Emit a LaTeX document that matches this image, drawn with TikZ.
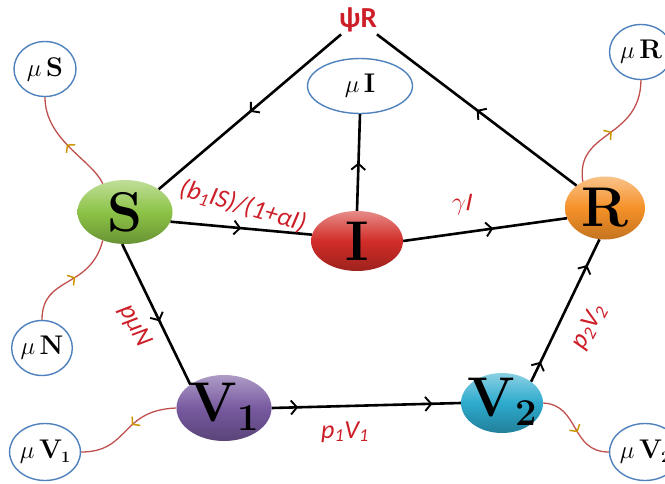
\documentclass[tikz,border=0pt]{standalone}
\usepackage{fontspec}
\newfontfamily\labfont{Carlito}
\usetikzlibrary{shapes.geometric,arrows.meta,decorations.markings}
\definecolor{lnred}{RGB}{192,80,77}
\definecolor{tipgold}{RGB}{204,150,0}
\definecolor{ringblue}{RGB}{79,129,189}
\definecolor{labred}{RGB}{205,30,40}
\definecolor{sgreen}{RGB}{140,195,70}
\definecolor{ired}{RGB}{210,45,40}
\definecolor{rorange}{RGB}{245,145,40}
\definecolor{vpurple}{RGB}{120,90,160}
\definecolor{vcyan}{RGB}{45,170,205}
\tikzset{
  x=1pt, y=-1pt,
  comp/.style={ellipse, inner sep=0pt, text=black,
    font=\fontsize{56}{56}\selectfont\bfseries},
  outring/.style={ellipse, draw=ringblue, line width=1.4pt, fill=white, inner sep=0pt,
    font=\fontsize{27}{27}\selectfont},
  flow/.style={line width=2.6pt, black},
  loss/.style={line width=1.3pt, lnred},
  lab/.style={text=labred, font=\labfont\itshape\fontsize{26}{26}\selectfont, inner sep=1pt},
  midarrow/.style={postaction={decorate}, decoration={markings,
    mark=at position #1 with {\arrow{Straight Barb[length=6pt,width=14pt,line width=1.9pt]}}}},
  twoarrows/.style 2 args={postaction={decorate}, decoration={markings,
    mark=at position #1 with {\arrow{Straight Barb[length=6pt,width=14pt,line width=1.9pt]}},
    mark=at position #2 with {\arrow{Straight Barb[length=6pt,width=14pt,line width=1.9pt]}}}},
  goldarrow/.style={postaction={decorate}, decoration={markings,
    mark=at position #1 with {\arrow[tipgold]{Straight Barb[length=5pt,width=12pt,line width=1.5pt]}}}},
}
\begin{document}
\begin{tikzpicture}
\useasboundingbox (0,0) rectangle (665,483);
% compartments
\node[comp, minimum width=95pt, minimum height=64pt, shade, top color=sgreen!55!white, bottom color=sgreen!75!black, middle color=sgreen] (S) at (125,212) {S};
\node[comp, minimum width=92pt, minimum height=60pt, shade, top color=ired!55!white, bottom color=ired!75!black, middle color=ired] (I) at (357,241) {I};
\node[comp, minimum width=80pt, minimum height=63pt, shade, top color=rorange!55!white, bottom color=rorange!80!black, middle color=rorange] (R) at (605,208) {R};
\node[comp, minimum width=95pt, minimum height=66pt, shade, top color=vpurple!60!white, bottom color=vpurple!75!black, middle color=vpurple] (V1) at (224,408) {\makebox[0pt]{\raisebox{-13pt}[0pt][0pt]{V\raisebox{-9pt}{\fontsize{38}{38}\selectfont 1}}}};
\node[comp, minimum width=82pt, minimum height=60pt, shade, top color=vcyan!55!white, bottom color=vcyan!75!black, middle color=vcyan] (V2) at (502,403) {\makebox[0pt]{\raisebox{-13pt}[0pt][0pt]{V\raisebox{-9pt}{\fontsize{38}{38}\selectfont 2}}}};
% psi R
\node[text=labred, font=\labfont\bfseries\fontsize{29}{29}\selectfont, inner sep=2pt] (psi) at (358,20) {ψR};
% outflow rings
\node[outring, minimum width=105pt, minimum height=55pt] (muI) at (360,86) {$\mu$\,\textbf{I}};
\node[outring, minimum width=62pt, minimum height=55pt] (muS) at (45,69) {$\mu$\,\textbf{S}};
\node[outring, minimum width=63pt, minimum height=55pt] (muR) at (641,52) {$\mu$\,\textbf{R}};
\node[outring, minimum width=57pt, minimum height=55pt] (muN) at (42,348) {$\mu$\,\textbf{N}};
\node[outring, minimum width=64pt, minimum height=57pt] (muV1) at (45,452) {$\mu$\,\textbf{V}\hspace{-1pt}\raisebox{-0.15em}{\fontsize{16}{16}\selectfont\bfseries 1}};
\node[outring, minimum width=63pt, minimum height=57pt] (muV2) at (645,452) {$\mu$\,\textbf{V}\hspace{-1pt}\raisebox{-0.15em}{\fontsize{16}{16}\selectfont\bfseries 2}};
% main flows
\draw[flow, midarrow=0.5] (psi) -- (S.north east);
\draw[flow, midarrow=0.5] (R.north west) -- (psi);
\draw[flow, midarrow=0.5] (I.north) -- (muI.south);
\draw[flow, midarrow=0.5] (S.-12) -- (I.172);
\draw[flow, midarrow=0.55] (I.east) -- (R.195);
\draw[flow, midarrow=0.55] (S.-95) -- (V1.north west);
\draw[flow, twoarrows={0.14}{0.85}] (V1.east) -- (V2.west);
\draw[flow, twoarrows={0.14}{0.82}] (V2.north east) -- (R.-100);
% labels
\node[lab, rotate=-16] (lbSI) at (243,206) {(b\textsubscript{1}IS)/(1+αI)};
\node[lab, rotate=-5] (lbIR) at (462,204) {$\gamma$I};
\node[lab, rotate=-62] (lbSV) at (135,326) {pμN};
\node[lab, rotate=62] (lbVR) at (589,327) {p\textsubscript{2}V\textsubscript{2}};
\node[lab] (lbVV) at (345,432) {p\textsubscript{1}V\textsubscript{1}};
% natural death curves
\draw[loss, goldarrow=0.5] (S.128) .. controls (92,160) and (45,140) .. (muS.south);
\draw[loss, goldarrow=0.55] (muN.north) .. controls (42,275) and (90,290) .. (S.-128);
\draw[loss, goldarrow=0.45] (V1.west) .. controls (120,410) and (130,452) .. (muV1.east);
\draw[loss, goldarrow=0.55] (V2.east) .. controls (580,405) and (570,452) .. (muV2.west);
\draw[loss, goldarrow=0.5] (R.130) .. controls (575,130) and (640,140) .. (muR.south);
\end{tikzpicture}
\end{document}
